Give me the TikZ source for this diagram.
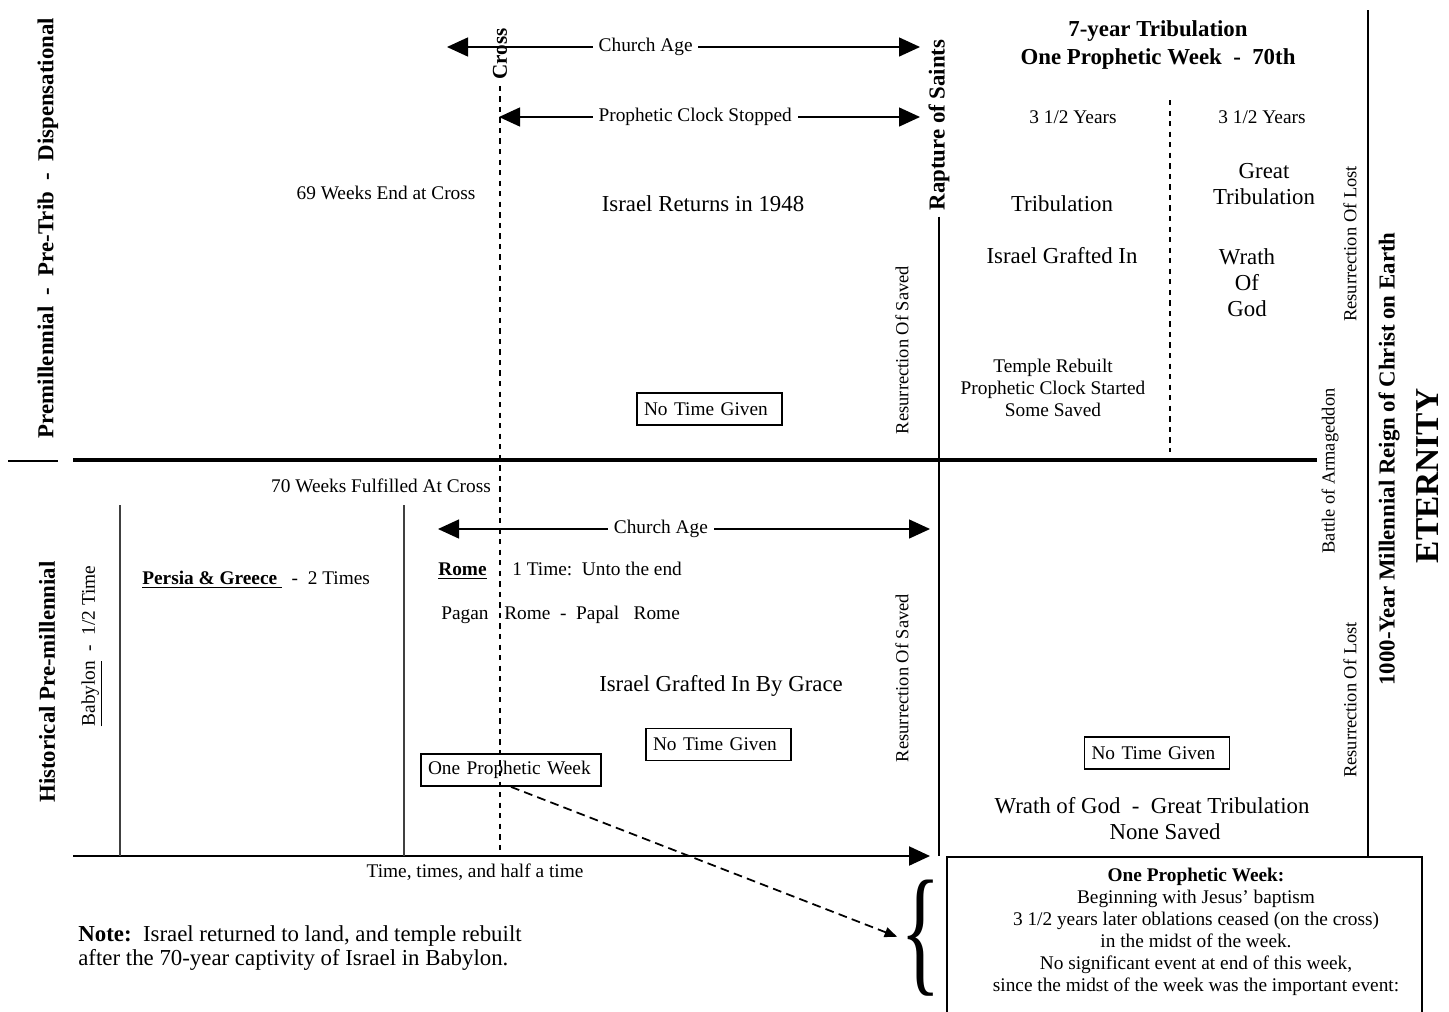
\documentclass[tikz,border=0pt]{standalone}
\usepackage{fontspec}
\setmainfont{Liberation Serif}
\usetikzlibrary{arrows.meta,positioning}

\begin{document}
\begin{tikzpicture}[x=0.02cm,y=-0.02cm,>={Triangle[length=0.42cm,width=0.38cm]},
    txt/.style={font=\fontsize{11}{12.5}\selectfont},
    bigtxt/.style={font=\fontsize{13}{15}\selectfont},
    boldtxt/.style={font=\fontsize{13}{15}\selectfont\bfseries},
    sidetxt/.style={font=\fontsize{10.5}{12}\selectfont,rotate=90},
    timebox/.style={draw,line width=1pt,font=\fontsize{11}{12.5}\selectfont,minimum height=0.64cm,text width=2.62cm,align=left,inner xsep=4pt},
    arr/.style={<->,line width=0.8pt}]

                \useasboundingbox (0,0) rectangle (1449,1011);

                % upper half: pre-trib view
                \node[boldtxt,rotate=90] (pretrib) at (48,228) {Premillennial \ - \ Pre-Trib \ - \ Dispensational};
                \node[font=\fontsize{12}{14}\selectfont\bfseries,rotate=90] (cross) at (500,54) {Cross};
                \node[boldtxt,rotate=90] (rapture) at (939,125) {Rapture of Saints};

                \coordinate (caA) at (447,47);
                \coordinate (caB) at (920,47);
                \coordinate (pcA) at (499,117);
                \coordinate (pcB) at (920,117);

                \path[arr] (caA) edge node[txt,fill=white,pos=0.42] {Church Age} (caB)
                           (pcA) edge node[txt,fill=white,pos=0.466] {Prophetic Clock Stopped} (pcB);

                \node[boldtxt,align=center,font=\fontsize{13}{16.5}\selectfont\bfseries] (seven) at (1158,45) {7-year Tribulation\\One Prophetic Week \ - \ 70th};
                \node[txt] (yrsA) at (1073,117) {3 1/2 Years};
                \node[txt] (yrsB) at (1262,117) {3 1/2 Years};
                \node[bigtxt] (trib) at (1062,204) {Tribulation};
                \node[bigtxt] (grafted) at (1062,256) {Israel Grafted In};
                \node[txt,align=center] (temple) at (1053,388) {Temple Rebuilt\\Prophetic Clock Started\\Some Saved};
                \node[bigtxt,align=center,font=\fontsize{13}{14.8}\selectfont] (great) at (1264,184) {Great\\Tribulation};
                \node[bigtxt,align=center,font=\fontsize{13}{14.8}\selectfont] (wrath) at (1247,283) {Wrath\\Of\\God};
                \draw[dashed,line width=1pt] (1170,100) -- (1170,452);

                \node[txt] (weeksA) at (386,193) {69 Weeks End at Cross};
                \node[bigtxt] (returns) at (703,204) {Israel Returns in 1948};
                \node[timebox] (notimeA) at (709.5,409) {No Time Given};
                \node[sidetxt] (savedA) at (902,350) {Resurrection Of Saved};
                \node[sidetxt] (lostA) at (1350,244) {Resurrection Of Lost};
                \node[sidetxt] (battle) at (1330,471) {Battle of Armageddon};
                \node[boldtxt,rotate=90] (reign) at (1389,459) {1000-Year Millennial Reign of Christ on Earth};
                \node[font=\fontsize{19}{22}\selectfont\bfseries,rotate=90] (eternity) at (1428,476) {ETERNITY};

                % dividing line
                \draw[line width=2.3pt] (73,460) -- (1317,460);
                \draw[line width=0.7pt] (8,461) -- (58,461);

                % lower half: historical view
                \node[boldtxt,rotate=90] (historic) at (47,682) {Historical Pre-millennial};
                \node[txt,rotate=90] (babylon) at (92,646) {\underline{Babylon}\ \ -\ \ 1/2 Time};
                \node[txt] (weeksB) at (381,486) {70 Weeks Fulfilled At Cross};

                \coordinate (cbA) at (438,529);
                \coordinate (cbB) at (930,529);
                \path[arr] (cbA) edge node[txt,fill=white,pos=0.453] {Church Age} (cbB);

                \node[txt,anchor=west,inner sep=0] (persia) at (142,580) {\underline{\textbf{Persia \& Greece\ }}\ \ -\ \ 2 Times};
                \node[txt,anchor=west,inner sep=0] (rome) at (438,571) {\underline{\textbf{Rome}}};
                \node[txt,inner sep=0] (untoend) [base right=0.5cm of rome] {1 Time:\ \ Unto the end};
                \node[txt,anchor=west,inner sep=0] (pagan) at (441,615) {Pagan};
                \node[txt,inner sep=0] (papal) [base right=0.3cm of pagan] {Rome\ \ -\ \ Papal\ \ \ Rome};
                \node[bigtxt] (bygrace) at (721,686) {Israel Grafted In By Grace};
                \node[timebox] (notimeB) at (718.5,744.5) {No Time Given};
                \node[timebox,text width=3.32cm] (opw) at (511,770) {One Prophetic Week};
                \node[sidetxt] (savedB) at (902,678) {Resurrection Of Saved};
                \node[sidetxt] (lostB) at (1350,700) {Resurrection Of Lost};
                \node[timebox] (notimeC) at (1157,753) {No Time Given};
                \node[bigtxt] (wrathgt) at (1152,806) {Wrath of God\ \ -\ \ Great Tribulation};
                \node[bigtxt] (nonesaved) at (1165,832) {None Saved};

                \coordinate (axA) at (73,856);
                \coordinate (axB) at (930,856);
                \draw[->,line width=1.2pt] (axA) -- (axB);
                \node[txt] (ttt) at (475,872) {Time, times, and half a time};

                \draw[line width=0.6pt,black!75] (120,505) -- (120,856);
                \draw[line width=0.6pt,black!75] (404,505) -- (404,856);
                \draw[dashed,line width=1pt] (cross.west) -- (cross.west |- axA);
                \draw[line width=0.7pt] (rapture.west) -- (rapture.west |- axA);
                \draw[line width=0.7pt] (1368,10) -- (1368,856);

                % week note
                \draw[line width=1.1pt] (947,1020) -- (947,857) -- (1422,857) -- (1422,1020);
                \node[txt,align=center,anchor=north] (weeknote) at (1196,862) {\textbf{One Prophetic Week:}\\Beginning with Jesus' baptism\\3 1/2 years later oblations ceased (on the cross)\\in the midst of the week.\\No significant event at end of this week,\\since the midst of the week was the important event:};
                \node[inner sep=0,font=\fontsize{80}{80}\selectfont] (brace) at (921,938) {\scalebox{0.6}[1]{\{}};
                \draw[->,dash pattern=on 5pt off 3pt,line width=1pt,>={Triangle[length=0.25cm,width=0.2cm]},shorten >=2pt] (opw.south) -- (brace.west);

                \node[bigtxt,anchor=west,align=left,inner sep=0,font=\fontsize{13}{14.2}\selectfont] (note) at (78,948) {\textbf{Note:}\ \ Israel returned to land, and temple rebuilt\\after the 70-year captivity of Israel in Babylon.};

            \end{tikzpicture}
\end{document}
